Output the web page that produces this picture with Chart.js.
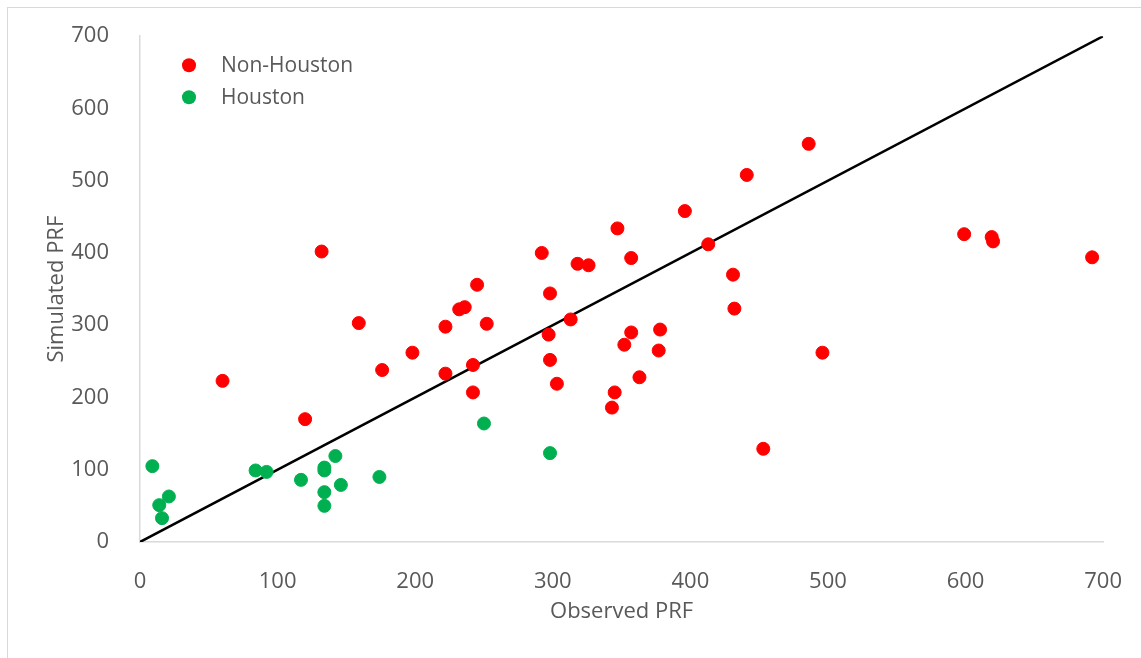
<!DOCTYPE html>
<html>
<head>
<meta charset="utf-8">
<script src="https://cdn.jsdelivr.net/npm/chart.js@4/dist/chart.umd.min.js"></script>
<style>
  html, body { margin: 0; padding: 0; background: #fff; }
  #wrap { position: relative; width: 1141px; height: 658px; overflow: hidden; }
  #frame { position: absolute; left: 7px; top: 7px; width: 1200px; height: 700px;
           border-left: 1px solid #d9d9d9; border-top: 1px solid #d9d9d9; }
  canvas { position: absolute; left: 0; top: 0; }
</style>
</head>
<body>
<div id="wrap">
  <div id="frame"></div>
  <canvas id="myChart" width="1141" height="658"></canvas>
</div>
<script>
// values (observed vs simulated PRF)
const houstonX = [9, 14, 16, 21, 84, 92, 117, 134, 134, 142, 134, 134, 146, 174, 250, 298];
const houstonY = [105, 51, 33, 63, 99, 97, 86, 103, 99, 119, 69, 50, 79, 90, 164, 123];

const nonHoustonX = [60, 120, 132, 159, 176, 198, 222, 222, 232, 236, 245, 242, 242, 252,
                     292, 298, 313, 297, 298, 303, 318, 326, 347, 357, 357, 352, 378, 377,
                     363, 345, 343, 486, 441, 396, 413, 431, 432, 453, 496, 599, 619, 620, 692];
const nonHoustonY = [223, 170, 402, 303, 238, 262, 298, 233, 322, 325, 356, 245, 207, 302,
                     400, 344, 308, 287, 252, 219, 385, 383, 434, 393, 290, 273, 294, 265,
                     228, 207, 186, 551, 508, 458, 412, 370, 323, 129, 262, 426, 422, 416, 394];

// 1:1 line
const lineX = [0, 700];
const lineY = [0, 700];

const tickValues = [0, 100, 200, 300, 400, 500, 600, 700];

const FONT = "'Open Sans', 'Noto Sans', sans-serif";
const TEXT = "#595959";

function toPoints(xs, ys) {
    return xs.map((x, i) => ({ x: x, y: ys[i] }));
}

// legend sits inside the plot, so draw it ourselves from the dataset labels/colours
const insideLegend = {
    id: "insideLegend",
    afterDatasetsDraw(chart) {
        const ctx = chart.ctx;
        const area = chart.chartArea;
        const items = chart.data.datasets.filter(d => d.showInLegend);
        ctx.save();
        ctx.font = "21px " + FONT;
        ctx.textBaseline = "middle";
        items.forEach((d, i) => {
            const cy = area.top + 29 + i * 32;
            ctx.beginPath();
            ctx.arc(area.left + 49, cy, 7, 0, Math.PI * 2);
            ctx.fillStyle = d.backgroundColor;
            ctx.fill();
            ctx.fillStyle = TEXT;
            ctx.fillText(d.label, area.left + 81, cy + 1);
        });
        ctx.restore();
    }
};

const config = {
    type: "scatter",
    data: {
        datasets: [
            {
                label: "Non-Houston",
                data: toPoints(nonHoustonX, nonHoustonY),
                backgroundColor: "#FF0000",
                borderColor: "#FF0000",
                pointRadius: 6.5,
                showInLegend: true
            },
            {
                label: "Houston",
                data: toPoints(houstonX, houstonY),
                backgroundColor: "#00B050",
                borderColor: "#00B050",
                pointRadius: 6.5,
                showInLegend: true
            },
            {
                type: "line",
                label: "1:1",
                data: toPoints(lineX, lineY),
                borderColor: "#000000",
                borderWidth: 2.5,
                pointRadius: 0,
                fill: false
            }
        ]
    },
    options: {
        responsive: false,
        animation: false,
        layout: { padding: { left: 35, top: 36, right: 37, bottom: 20 } },
        plugins: {
            legend: { display: false },
            tooltip: { enabled: false }
        },
        scales: {
            x: {
                type: "linear",
                min: 0,
                max: 700,
                afterBuildTicks: scale => { scale.ticks = tickValues.map(v => ({ value: v })); },
                afterFit: scale => { scale.height = 96; },
                grid: { display: false },
                border: { display: true, color: "#d9d9d9", width: 1.5 },
                ticks: { padding: 19, color: TEXT, font: { family: FONT, size: 22 } },
                title: {
                    display: true,
                    text: "Observed PRF",
                    color: TEXT,
                    font: { family: FONT, size: 22 },
                    padding: { top: 0, bottom: 13 }
                }
            },
            y: {
                type: "linear",
                min: 0,
                max: 700,
                afterBuildTicks: scale => { scale.ticks = tickValues.map(v => ({ value: v })); },
                afterFit: scale => { scale.width = 105; },
                grid: { display: false },
                border: { display: true, color: "#d9d9d9", width: 1.5 },
                ticks: { padding: 23, color: TEXT, font: { family: FONT, size: 22 } },
                title: {
                    display: true,
                    text: "Simulated PRF",
                    color: TEXT,
                    font: { family: FONT, size: 22 },
                    padding: { top: 9, bottom: 0 }
                }
            }
        }
    },
    plugins: [insideLegend]
};

const ctx = document.getElementById("myChart").getContext("2d");
const myChart = new Chart(ctx, config);
</script>
</body>
</html>
